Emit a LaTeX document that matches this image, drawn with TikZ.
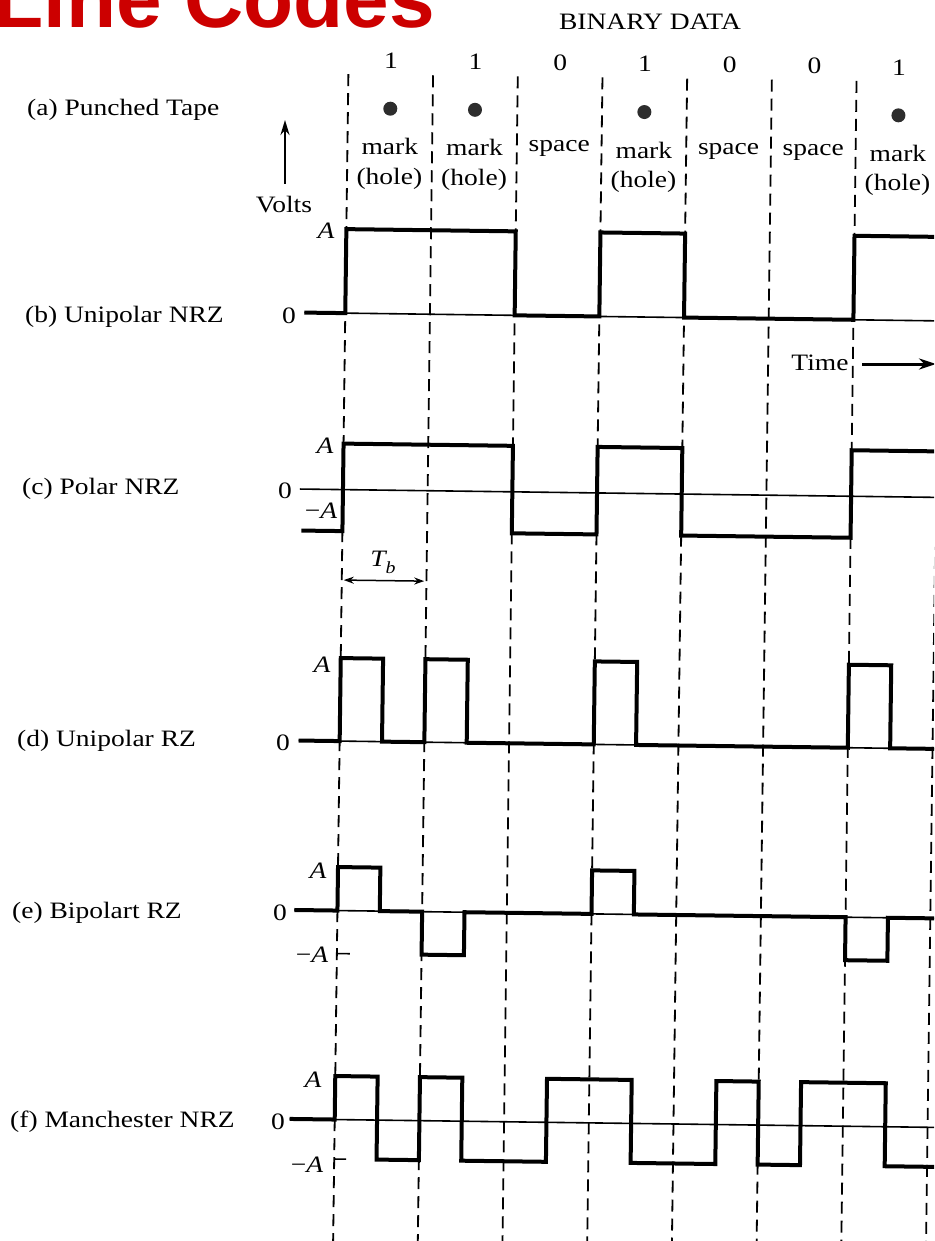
\documentclass[tikz,border=0pt]{standalone}
\usepackage{graphicx}
\usepackage{fontspec}
\setmainfont{Liberation Serif}
\newfontfamily\titlefont{Liberation Sans}
\usetikzlibrary{arrows.meta}
\definecolor{titlered}{RGB}{204,0,0}
\definecolor{dotgray}{RGB}{45,45,45}
\newcommand\wtxt[1]{\scalebox{1.17}[1]{#1}}
\newcommand\negA{\wtxt{−\itshape A}}
\tikzset{
  lbl/.style={inner sep=0pt, font=\fontsize{23.5}{28}\selectfont},
  wave/.style={line width=4pt, line join=miter},
  axisline/.style={line width=1.6pt},
  bitline/.style={line width=1.8pt, dash pattern=on 12pt off 7pt},
  holedot/.style={circle, fill=dotgray, inner sep=0pt, minimum size=14pt},
}
\begin{document}
\begin{tikzpicture}[x=1pt,y=-1pt]
\useasboundingbox (0,0) rectangle (934,1241);
\clip (0,0) rectangle (934,1241);

% title
\node[anchor=base west, inner sep=0pt, text=titlered,
      font=\titlefont\bfseries\fontsize{82}{90}\selectfont] (title) at (-7,28) {Line Codes};

\node[lbl] (bd) at (650,22) {\wtxt{BINARY DATA}};

% row labels
\node[lbl,anchor=west] (la) at (27,110) {\wtxt{(a) Punched Tape}};
\node[lbl,anchor=west] (lb) at (25,317) {\wtxt{(b) Unipolar NRZ}};
\node[lbl,anchor=west] (lc) at (22,489) {\wtxt{(c) Polar NRZ}};
\node[lbl,anchor=west] (ld) at (17,741) {\wtxt{(d) Unipolar RZ}};
\node[lbl,anchor=west] (le) at (12,913) {\wtxt{(e) Bipolart RZ}};
\node[lbl,anchor=west] (lf) at (10,1122) {\wtxt{(f) Manchester NRZ}};

% axis values
\node[lbl] (bA) at (326,231) {\wtxt{\itshape A}};
\node[lbl] (b0) at (289,316) {\wtxt{0}};
\node[lbl] (cA) at (325,446) {\wtxt{\itshape A}};
\node[lbl] (c0) at (285,491) {\wtxt{0}};
\node[lbl] (cN) at (321,511) {\negA};
\node[lbl] (dA) at (322,665) {\wtxt{\itshape A}};
\node[lbl] (d0) at (283,743) {\wtxt{0}};
\node[lbl] (eA) at (318,871) {\wtxt{\itshape A}};
\node[lbl] (e0) at (280,913) {\wtxt{0}};
\node[lbl] (eN) at (312,955) {\negA};
\node[lbl] (fA) at (313,1080) {\wtxt{\itshape A}};
\node[lbl] (f0) at (278,1122) {\wtxt{0}};
\node[lbl] (fN) at (307,1165) {\negA};

% volts and time
\node[lbl] (volts) at (284,205) {\wtxt{Volts}};
\coordinate (vtail) at (285,184);
\coordinate (vtip) at (285,120);
\draw[line width=2.4pt, -{Stealth[length=15pt,width=9pt]}] (vtail) -- (vtip);
\node[lbl] (time) at (820,363) {\wtxt{Time}};
\coordinate (ttail) at (862,364);
\coordinate (ttip) at (936,364);
\draw[line width=3pt, -{Stealth[length=17pt,width=11pt]}] (ttail) -- (ttip);

\begin{scope}[rotate around={-0.75:(640,640)}]
  % bit boundaries
  \foreach \k in {0,...,7}
    \draw[bitline] ({341+84.7*\k},78) -- ({341+84.7*\k},1262);
  % binary data
  \foreach \b [count=\i from 0] in {1,1,0,1,0,0,1}
    \node[lbl] (bit\i) at ({383.35+84.7*\i},64) {\wtxt{\b}};
  % punched tape
  \foreach \i in {0,1,3,6}{
    \node[holedot] (hole\i) at ({383.35+84.7*\i},112) {};
    \node[lbl] (mark\i) at ({383.35+84.7*\i},150) {\wtxt{mark}};
    \node[lbl] (paren\i) at ({383.35+84.7*\i},182) {\wtxt{(hole)}};
  }
  \foreach \i in {2,4,5}
    \node[lbl] (space\i) at ({383.35+84.7*\i},150) {\wtxt{space}};

  % Tb
  \coordinate (tbl) at (343,584);
  \coordinate (tbr) at (423.5,584);
  \draw[line width=1.5pt, {Stealth[length=10pt,width=7pt]}-{Stealth[length=10pt,width=7pt]}] (tbl) -- (tbr);
  \node[lbl] (tb) at (382,566) {\wtxt{\itshape T\raisebox{-0.3em}{\fontsize{17}{19}\selectfont b}}};

  % zero axes
  \draw[axisline] (300,317) -- (960,317);
  \draw[axisline] (298,493.5) -- (960,493.5);
  \draw[axisline] (300,745) -- (960,745);
  \draw[axisline] (298,914.5) -- (960,914.5);
  \draw[axisline] (296,1123.5) -- (960,1123.5);
  % -A ticks
  \draw[axisline] (341,957.5) -- (354,957.5);
  \draw[axisline] (341,1163) -- (353,1163);

  % (b) unipolar NRZ
  \draw[wave] (300,317) -- (341,317) -- (341,233) -- (510.4,233) -- (510.4,317)
    -- (595.1,317) -- (595.1,233) -- (679.8,233) -- (679.8,317) -- (849.2,317)
    -- (849.2,233) -- (960,233);
  % (c) polar NRZ
  \draw[wave] (300,535) -- (341,535) -- (341,447.5) -- (510.4,447.5) -- (510.4,535)
    -- (595.1,535) -- (595.1,447.5) -- (679.8,447.5) -- (679.8,535) -- (849.2,535)
    -- (849.2,447.5) -- (960,447.5);
  % (d) unipolar RZ
  \draw[wave] (300,745) -- (341,745) -- (341,662) -- (383.35,662) -- (383.35,745)
    -- (425.7,745) -- (425.7,662) -- (468.05,662) -- (468.05,745) -- (595.1,745)
    -- (595.1,662) -- (637.45,662) -- (637.45,745) -- (849.2,745) -- (849.2,662)
    -- (891.55,662) -- (891.55,745) -- (960,745);
  % (e) bipolar RZ
  \draw[wave] (298,914.5) -- (341,914.5) -- (341,871) -- (383.35,871) -- (383.35,914.5)
    -- (425.7,914.5) -- (425.7,957.5) -- (468.05,957.5) -- (468.05,914.5) -- (595.1,914.5)
    -- (595.1,871) -- (637.45,871) -- (637.45,914.5) -- (849.2,914.5) -- (849.2,957.5)
    -- (891.55,957.5) -- (891.55,914.5) -- (960,914.5);
  % (f) Manchester
  \draw[wave] (296,1123.5) -- (341,1123.5) -- (341,1080) -- (383.35,1080) -- (383.35,1163)
    -- (425.7,1163) -- (425.7,1080) -- (468.05,1080) -- (468.05,1163) -- (552.75,1163)
    -- (552.75,1080) -- (637.45,1080) -- (637.45,1163) -- (722.15,1163) -- (722.15,1080)
    -- (764.5,1080) -- (764.5,1163) -- (806.85,1163) -- (806.85,1080) -- (891.55,1080)
    -- (891.55,1163) -- (960,1163);
\end{scope}
\end{tikzpicture}
\end{document}
